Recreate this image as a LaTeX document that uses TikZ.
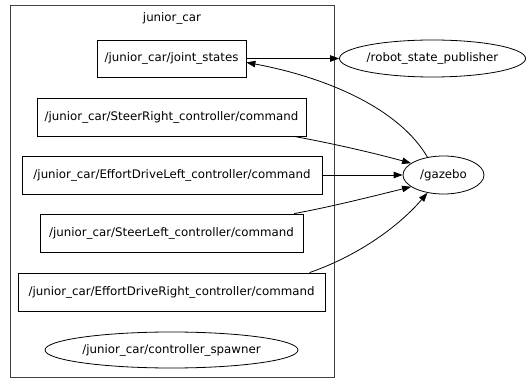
\documentclass[tikz,border=0pt]{standalone}
\usepackage{fontspec}
\setmainfont{DejaVu Sans}
\usetikzlibrary{arrows.meta,shapes.geometric}
\begin{document}
\begin{tikzpicture}[x=1pt,y=-1pt,
  every node/.style={font=\fontsize{11.8}{14}\selectfont, inner sep=0pt},
  topic/.style={draw, line width=0.8pt, rectangle},
  proc/.style={draw, line width=0.8pt, ellipse},
  conn/.style={line width=0.8pt, -{Triangle[length=9pt,width=6.5pt]}}]
\useasboundingbox (0,0) rectangle (530,379);
\fill[white] (0,0) rectangle (530,379);
\draw[line width=0.8pt, black!75] (10,5) rectangle (334,377);
\node (lbl) at (172,18) {junior\_car};
\node[topic, minimum width=149pt, minimum height=37pt] (js) at (171.5,58.5) {/junior\_car/joint\_states};
\node[topic, minimum width=269pt, minimum height=38pt] (sr) at (171.5,117) {/junior\_car/SteerRight\_controller/command};
\node[topic, minimum width=300pt, minimum height=38pt] (edl) at (172,175) {/junior\_car/EffortDriveLeft\_controller/command};
\node[topic, minimum width=263pt, minimum height=38pt] (sl) at (171.5,233) {/junior\_car/SteerLeft\_controller/command};
\node[topic, minimum width=307pt, minimum height=38pt] (edr) at (171.5,292) {/junior\_car/EffortDriveRight\_controller/command};
\node[proc, minimum width=253pt, minimum height=36pt] (cs) at (171.5,350) {/junior\_car/controller\_spawner};
\node[proc, minimum width=180pt, minimum height=37pt] (rsp) at (432.5,58.5) {/robot\_state\_publisher};
\node[proc, minimum width=81pt, minimum height=38pt] (gz) at (443.5,175) {/gazebo};
\draw[conn] (js.east) -- (rsp.west);
\draw[conn] (gz.132) .. controls (400,110) and (330,78) .. (js.-3);
\draw[conn] (sr.-9) .. controls (330,143) and (370,152) .. (gz.160);
\draw[conn] (edl.east) -- (gz.west);
\draw[conn] (sl.9) .. controls (330,207) and (370,197) .. (gz.200);
\draw[conn] (edr.8) .. controls (360,255) and (400,225) .. (gz.228);
\end{tikzpicture}
\end{document}
